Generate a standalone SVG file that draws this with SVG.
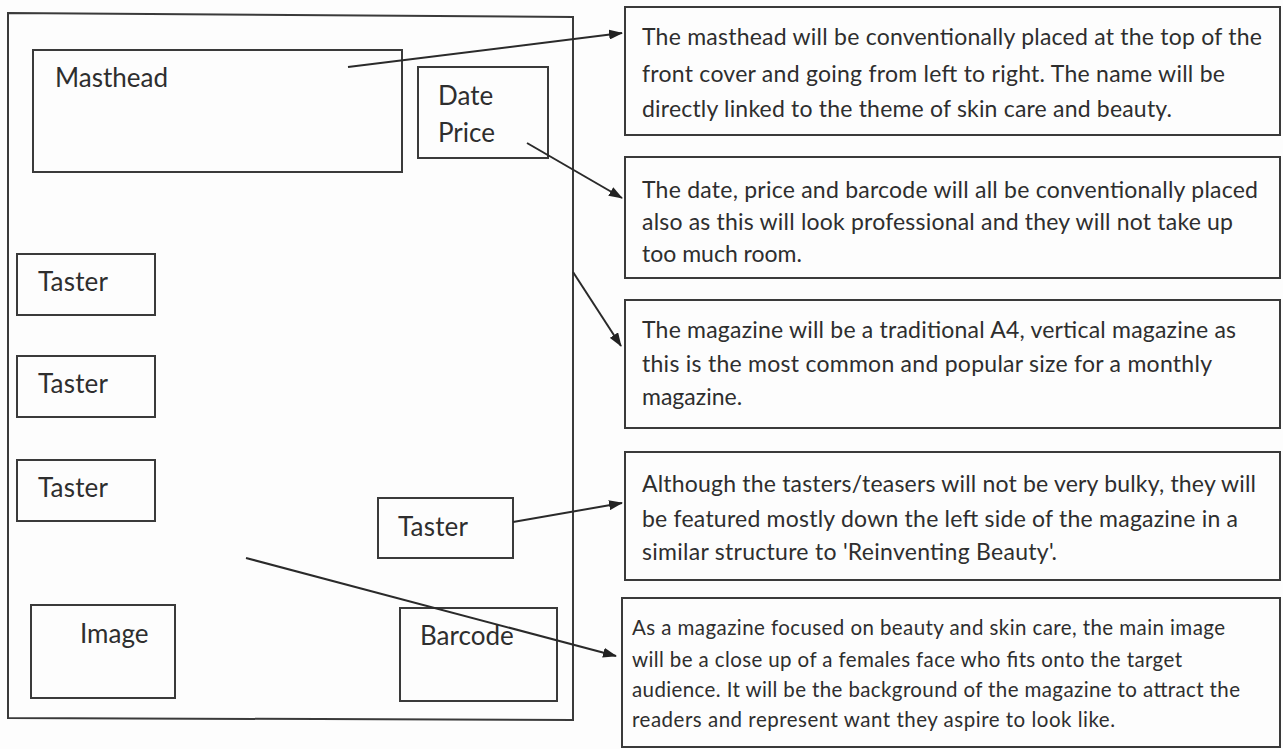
<svg xmlns="http://www.w3.org/2000/svg" width="1283" height="749" viewBox="0 0 1283 749">
<defs>
<marker id="ah" viewBox="0 0 14 10" refX="13" refY="5" markerWidth="14" markerHeight="10" markerUnits="userSpaceOnUse" orient="auto">
<path d="M0,0 L14,5 L0,10 z" fill="#222"/>
</marker>
<style>
.box{fill:none;stroke:#3a3a3a;stroke-width:2}
.lbl{font-family:Lato,"Liberation Sans",sans-serif;font-size:26px;fill:#2e2e2e}
.txt{font-family:Lato,"Liberation Sans",sans-serif;font-size:23px;fill:#2e2e2e}
.sm{font-family:Lato,"Liberation Sans",sans-serif;font-size:20.5px;fill:#2e2e2e}
.con{stroke:#2a2a2a;stroke-width:2;fill:none;marker-end:url(#ah)}
</style>
</defs>
<rect width="1283" height="749" fill="#fdfdfd"/>
<g id="cover">
<path class="box" d="M8,13 L573,17 L573,720 L8,718 Z"/>
</g>
<g id="masthead">
<rect class="box" x="33" y="50" width="369" height="122"/>
<text class="lbl" x="55" y="87" textLength="113">Masthead</text>
</g>
<g id="dateprice">
<rect class="box" x="418" y="67" width="130" height="91"/>
<text class="lbl" x="438" y="105">Date</text>
<text class="lbl" x="438" y="142">Price</text>
</g>
<g id="taster1">
<rect class="box" x="17" y="254" width="138" height="61"/>
<text class="lbl" x="38" y="291" textLength="70">Taster</text>
</g>
<g id="taster2">
<rect class="box" x="17" y="356" width="138" height="61"/>
<text class="lbl" x="38" y="393" textLength="70">Taster</text>
</g>
<g id="taster3">
<rect class="box" x="17" y="460" width="138" height="61"/>
<text class="lbl" x="38" y="497" textLength="70">Taster</text>
</g>
<g id="taster4">
<rect class="box" x="378" y="498" width="135" height="60"/>
<text class="lbl" x="398" y="536" textLength="70">Taster</text>
</g>
<g id="image">
<rect class="box" x="31" y="605" width="144" height="93"/>
<text class="lbl" x="80" y="643">Image</text>
</g>
<g id="barcode">
<rect class="box" x="400" y="608" width="157" height="93"/>
<text class="lbl" x="420" y="645">Barcode</text>
</g>
<g id="note1">
<rect class="box" x="625" y="7" width="655" height="128"/>
<text class="txt" x="642" y="45" textLength="620">The masthead will be conventionally placed at the top of the</text>
<text class="txt" x="642" y="82" textLength="583">front cover and going from left to right. The name will be</text>
<text class="txt" x="642" y="117" textLength="530">directly linked to the theme of skin care and beauty.</text>
</g>
<g id="note2">
<rect class="box" x="625" y="157" width="655" height="121"/>
<text class="txt" x="642" y="198" textLength="616">The date, price and barcode will all be conventionally placed</text>
<text class="txt" x="642" y="230" textLength="591">also as this will look professional and they will not take up</text>
<text class="txt" x="642" y="262">too much room.</text>
</g>
<g id="note3">
<rect class="box" x="625" y="300" width="655" height="128"/>
<text class="txt" x="642" y="338" textLength="594">The magazine will be a traditional A4, vertical magazine as</text>
<text class="txt" x="642" y="372" textLength="570">this is the most common and popular size for a monthly</text>
<text class="txt" x="642" y="405">magazine.</text>
</g>
<g id="note4">
<rect class="box" x="625" y="452" width="655" height="128"/>
<text class="txt" x="642" y="492" textLength="614">Although the tasters/teasers will not be very bulky, they will</text>
<text class="txt" x="642" y="527" textLength="596">be featured mostly down the left side of the magazine in a</text>
<text class="txt" x="642" y="560" textLength="415">similar structure to 'Reinventing Beauty'.</text>
</g>
<g id="note5">
<rect class="box" x="622" y="598" width="658" height="149"/>
<text class="sm" x="632" y="635" textLength="593">As a magazine focused on beauty and skin care, the main image</text>
<text class="sm" x="632" y="667" textLength="550">will be a close up of a females face who fits onto the target</text>
<text class="sm" x="632" y="697" textLength="608">audience. It will be the background of the magazine to attract the</text>
<text class="sm" x="632" y="727" textLength="483">readers and represent want they aspire to look like.</text>
</g>
<g id="connectors">
<line class="con" x1="348" y1="67" x2="622" y2="33"/>
<line class="con" x1="527" y1="143" x2="622" y2="198"/>
<line class="con" x1="573" y1="272" x2="621" y2="346"/>
<line class="con" x1="513" y1="522" x2="622" y2="503"/>
<line class="con" x1="246" y1="558" x2="616" y2="656"/>
</g>
</svg>
